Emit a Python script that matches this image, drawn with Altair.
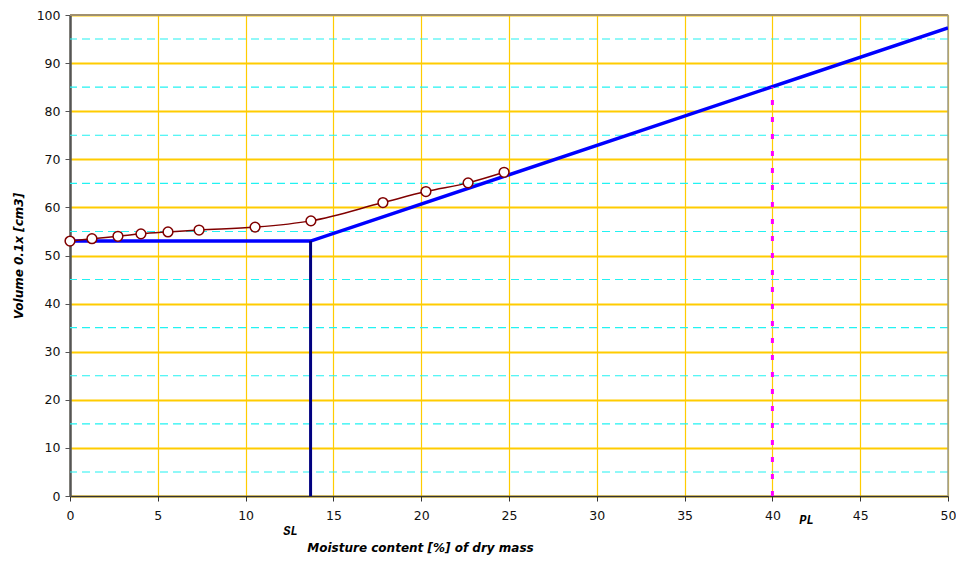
import altair as alt
import pandas as pd

# Measured points (moisture %, volume)
moisture = [0.0, 1.25, 2.73, 4.04, 5.58, 7.35, 10.54, 13.72, 17.82, 20.27, 22.67, 24.72]
volume = [53.0, 53.5, 54.0, 54.5, 54.9, 55.3, 55.9, 57.2, 61.0, 63.3, 65.1, 67.3]

# Shrinkage construction line
shrink_x = [0.0, 13.7, 50.0]
shrink_y = [53.0, 53.0, 97.3]

SL = 13.7
SL_volume = 53.0
PL = 40.0
PL_volume = 85.0

x_ticks = [0, 5, 10, 15, 20, 25, 30, 35, 40, 45, 50]
y_ticks = [0, 10, 20, 30, 40, 50, 60, 70, 80, 90, 100]
y_minor = [5, 15, 25, 35, 45, 55, 65, 75, 85, 95]

W, H = 878, 481
LABEL_FONT = "DejaVu Sans"

xs = alt.Scale(domain=[0, 50], nice=False, zero=False)
ys = alt.Scale(domain=[0, 100], nice=False, zero=False)

x_axis = alt.Axis(values=x_ticks, grid=True, gridColor="#FFCC00", gridWidth=1.2,
                  domainColor="#333333", domainWidth=1.5, tickColor="#333333",
                  tickSize=5, labelPadding=8, labelFontSize=12.5, labelColor="#111111",
                  labelFont=LABEL_FONT, labelFlush=False,
                  title="Moisture content [%] of dry mass", titleFontSize=12,
                  titleFont=LABEL_FONT, titleFontWeight="bold",
                  titleFontStyle="italic", titleColor="#000000",
                  titleX=350, titleY=51, titleBaseline="middle", titleAlign="center")
y_axis = alt.Axis(values=y_ticks, grid=True, gridColor="#FFCC00", gridWidth=1.8,
                  domainColor="#555555", domainWidth=2.5, tickColor="#555555",
                  tickSize=5, labelPadding=5, labelFontSize=12.5, labelColor="#111111",
                  labelFont=LABEL_FONT, labelFlush=False,
                  title="Volume 0.1x [cm3]", titleFontSize=12,
                  titleFont=LABEL_FONT, titleFontWeight="bold",
                  titleFontStyle="italic", titleColor="#000000",
                  titleX=-52, titleY=H / 2, titleAngle=-90,
                  titleBaseline="middle", titleAlign="center")


def X(field):
    return alt.X(field, scale=xs, axis=x_axis)


def Y(field):
    return alt.Y(field, scale=ys, axis=y_axis)


pts = pd.DataFrame({"m": moisture, "v": volume})
shrink = pd.DataFrame({"m": shrink_x, "v": shrink_y, "o": [0, 1, 2]})
minor = pd.DataFrame({"v": y_minor})

minor_rules = alt.Chart(minor).mark_rule(color="#22F2F2", strokeWidth=1.1, strokeDash=[8, 5]).encode(
    y=Y("v:Q")
)

top_border = alt.Chart(pd.DataFrame({"v": [100]})).mark_rule(color="#A09070", strokeWidth=2).encode(
    y=Y("v:Q")
)
right_border = alt.Chart(pd.DataFrame({"m": [50]})).mark_rule(color="#9A9A90", strokeWidth=1.5).encode(
    x=X("m:Q")
)

shrink_line = alt.Chart(shrink).mark_line(color="#0000FF", strokeWidth=3.5, clip=True).encode(
    x=X("m:Q"), y=Y("v:Q"), order="o:Q"
)

sl_rule = alt.Chart(pd.DataFrame({"m": [SL], "v": [0], "v2": [SL_volume]})).mark_rule(
    color="#000080", strokeWidth=3
).encode(x=X("m:Q"), y=Y("v:Q"), y2="v2:Q")

pl_rule = alt.Chart(pd.DataFrame({"m": [PL], "v": [0], "v2": [PL_volume]})).mark_rule(
    color="#FF00FF", strokeWidth=3, strokeDash=[5, 12]
).encode(x=X("m:Q"), y=Y("v:Q"), y2="v2:Q")

red_line = alt.Chart(pts).mark_line(color="#800000", strokeWidth=1.5, interpolate="monotone").encode(
    x=X("m:Q"), y=Y("v:Q")
)
red_pts = alt.Chart(pts).mark_point(
    shape="circle", filled=True, fill="#FFFFFF", stroke="#800000", strokeWidth=1.5, size=95, opacity=1
).encode(x=X("m:Q"), y=Y("v:Q"))

sl_text = alt.Chart(pd.DataFrame({"m": [SL], "t": ["SL"]})).mark_text(
    font="Liberation Mono", fontSize=12, fontWeight="bold", fontStyle="italic",
    color="#000000", dx=-20, align="center", baseline="middle"
).encode(x=X("m:Q"), y=alt.value(H + 35), text="t:N")

pl_text = alt.Chart(pd.DataFrame({"m": [PL], "t": ["PL"]})).mark_text(
    font="Liberation Mono", fontSize=12, fontWeight="bold", fontStyle="italic",
    color="#000000", dx=34, align="center", baseline="middle"
).encode(x=X("m:Q"), y=alt.value(H + 24), text="t:N")

chart = alt.layer(
    minor_rules, top_border, right_border, shrink_line, sl_rule, pl_rule,
    red_line, red_pts, sl_text, pl_text
).properties(
    width=W, height=H,
    autosize=alt.AutoSizeParams(type="none"),
    padding={"left": 70, "top": 15, "right": 8, "bottom": 65},
    background="#FFFFFF"
).configure_view(stroke=None)

chart.save("out.html", embed_options={"renderer": "svg", "actions": False})
